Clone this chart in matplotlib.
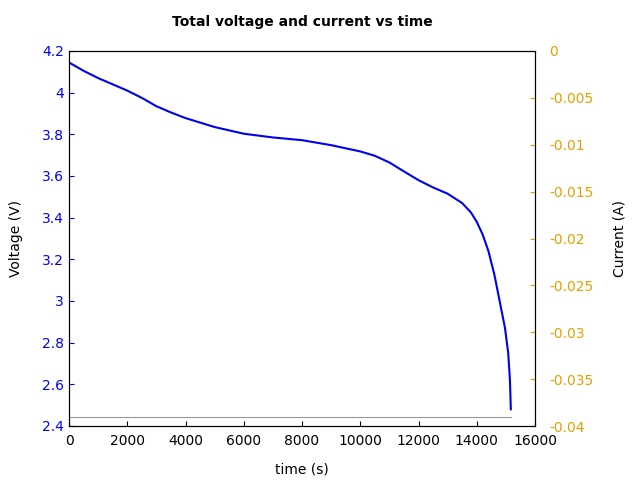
import matplotlib
matplotlib.use("Agg")
import matplotlib.pyplot as plt

time_s = [0, 500, 1000, 1500, 2000, 2500, 3000, 3500, 4000, 5000, 6000, 7000, 8000, 9000, 10000, 10500, 11000, 11500, 12000, 12500, 13000, 13500, 13800, 14000, 14200, 14400, 14600, 14800, 14970, 15080, 15140, 15170]
voltage = [4.145, 4.105, 4.07, 4.04, 4.01, 3.975, 3.935, 3.905, 3.878, 3.835, 3.803, 3.785, 3.772, 3.748, 3.718, 3.697, 3.665, 3.622, 3.58, 3.545, 3.515, 3.47, 3.425, 3.38, 3.32, 3.24, 3.13, 2.99, 2.87, 2.75, 2.62, 2.48]
current_t = [0, 15170]
current = [-0.039, -0.039]

fig = plt.figure(figsize=(6.4, 4.8), dpi=100)
ax = fig.add_axes([69/640, 1-426/480, (535-69)/640, (426-51)/480])
ax.plot(time_s, voltage, color="#0000ee", lw=1.5)
ax.set_xlim(0, 16000)
ax.set_ylim(2.4, 4.2)
ax.set_xticks(range(0, 16001, 2000))
ax.set_yticks([2.4, 2.6, 2.8, 3.0, 3.2, 3.4, 3.6, 3.8, 4.0, 4.2])
ax.set_yticklabels(["2.4", "2.6", "2.8", "3", "3.2", "3.4", "3.6", "3.8", "4", "4.2"])
ax.tick_params(axis="y", colors="blue", direction="in", labelcolor="blue")
ax.tick_params(axis="x", direction="in", pad=6)
ax.set_xlabel("time (s)", labelpad=10)
ax.set_ylabel("Voltage (V)", labelpad=14)
ax.set_title("Total voltage and current vs time", fontweight="bold", fontsize=10, pad=18)

ax2 = ax.twinx()
ax2.plot(current_t, current, color="#999999", lw=0.8)
ax2.set_ylim(-0.04, 0)
yt = [-0.04, -0.035, -0.03, -0.025, -0.02, -0.015, -0.01, -0.005, 0]
ax2.set_yticks(yt)
ax2.set_yticklabels(["-0.04", "-0.035", "-0.03", "-0.025", "-0.02", "-0.015", "-0.01", "-0.005", "0"])
ax2.tick_params(axis="y", colors="#e69f00", direction="in", labelcolor="#e69f00", pad=10)
ax2.set_ylabel("Current (A)", labelpad=14)

fig.savefig("out.png", dpi=100)
